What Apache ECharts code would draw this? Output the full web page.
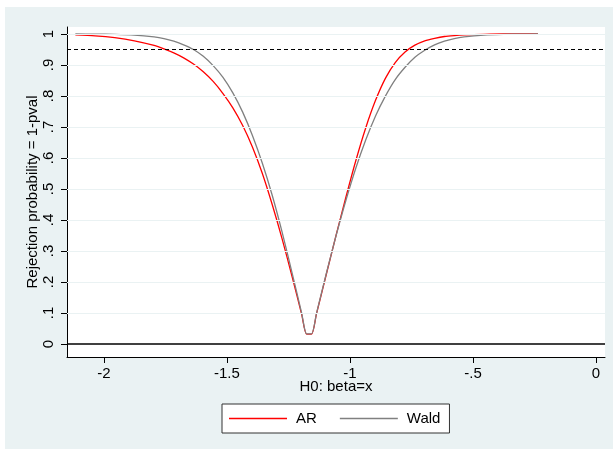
<!DOCTYPE html>
<html>
<head>
<meta charset="utf-8">
<script src="https://cdn.jsdelivr.net/npm/echarts@6/dist/echarts.min.js"></script>
<style>html,body{margin:0;padding:0;background:#fff}#c{width:613px;height:449px}</style>
</head>
<body>
<div id="c"></div>
<script>
var xValues = [-2.116,-2.036,-1.956,-1.876,-1.796,-1.756,-1.716,-1.676,-1.636,-1.596,-1.556,-1.516,-1.476,-1.436,-1.396,-1.356,-1.316,-1.276,-1.236,-1.196,-1.176,-1.156,-1.136,-1.096,-1.056,-1.016,-0.976,-0.936,-0.896,-0.856,-0.816,-0.776,-0.736,-0.696,-0.656,-0.616,-0.576,-0.536,-0.456,-0.376,-0.296,-0.236];
var arValues = [0.997,0.994,0.988,0.978,0.963,0.952,0.939,0.923,0.903,0.878,0.847,0.808,0.762,0.705,0.635,0.550,0.450,0.340,0.220,0.095,0.032,0.032,0.097,0.225,0.352,0.475,0.592,0.697,0.786,0.857,0.908,0.942,0.964,0.978,0.986,0.992,0.995,0.997,0.999,1.0,1.0,1.0];
var waldValues = [1.0,0.9997,0.9989,0.9966,0.9907,0.9853,0.9768,0.9651,0.950,0.928,0.898,0.860,0.810,0.748,0.672,0.583,0.480,0.362,0.232,0.099,0.033,0.033,0.0987,0.2274,0.3509,0.4647,0.5676,0.6579,0.7356,0.7995,0.8529,0.8926,0.9249,0.9476,0.9651,0.9768,0.9853,0.9907,0.9966,0.9989,0.9997,1.0];
var yTicks = [0,0.1,0.2,0.3,0.4,0.5,0.6,0.7,0.8,0.9,1];
var xTicks = [-2,-1.5,-1,-0.5,0];
var refLine = 0.95;

function stataFmt(v){
  var s = String(Math.round(v*100)/100);
  return s.replace(/^0\./,'.').replace(/^-0\./,'-.');
}
function zip(xs, ys){ return xs.map(function(x,i){ return [x, ys[i]]; }); }

var chart = echarts.init(document.getElementById('c'), null, {renderer:'canvas'});
var font = 'Liberation Sans, Arial, Helvetica, sans-serif';
chart.setOption({
  backgroundColor: '#ffffff',
  animation: false,
  graphic: [{
    type: 'rect', z: -100, silent: true,
    shape: {x: 5, y: 7, width: 608, height: 442},
    style: {fill: '#eaf2f3'}
  }],
  grid: {left: 67, right: 8, top: 27, bottom: 92, show: true, backgroundColor: '#ffffff', borderWidth: 0},
  xAxis: {
    type: 'value', min: -2.15, max: 0.0366,
    name: 'H0: beta=x', nameLocation: 'middle', nameGap: 22, nameMoveOverlap: false,
    nameTextStyle: {fontFamily: font, fontSize: 15, color: '#000'},
    axisLine: {show: true, onZero: false, lineStyle: {color: '#000', width: 1}},
    axisTick: {show: true, length: 6, customValues: xTicks, lineStyle: {color: '#000'}},
    axisLabel: {customValues: xTicks, formatter: stataFmt, margin: 9, fontFamily: font, fontSize: 15, color: '#000'},
    splitLine: {show: false}
  },
  yAxis: {
    type: 'value', min: -0.0419, max: 1.0226,
    name: 'Rejection probability = 1-pval', nameLocation: 'middle', nameGap: 27, nameMoveOverlap: false,
    nameTextStyle: {fontFamily: font, fontSize: 15, color: '#000'},
    axisLine: {show: true, onZero: false, lineStyle: {color: '#000', width: 1}},
    axisTick: {show: true, length: 6, customValues: yTicks, lineStyle: {color: '#000'}},
    axisLabel: {customValues: yTicks, formatter: stataFmt, rotate: 90, margin: 11, fontFamily: font, fontSize: 15, color: '#000'},
    splitLine: {show: false}
  },
  legend: {
    left: 222, top: 404,
    data: ['AR', 'Wald'],
    icon: 'rect',
    itemWidth: 58, itemHeight: 1.5, itemGap: 23,
    padding: [7, 9, 7, 7],
    backgroundColor: '#ffffff', borderColor: '#333', borderWidth: 1,
    textStyle: {fontFamily: font, fontSize: 15, color: '#000', padding: [0,0,0,4]}
  },
  series: [
    {
      name: 'grid', type: 'line', data: [], silent: true,
      markLine: {
        silent: true, symbol: 'none', label: {show: false}, animation: false,
        data: yTicks.filter(function(v){return v !== 0;}).map(function(v){ return {yAxis: v, lineStyle: {color: '#eaf2f3', width: 1, type: 'solid'}}; })
          .concat([{yAxis: 0, lineStyle: {color: '#000', width: 1.6, type: 'solid'}},
                   {yAxis: refLine, lineStyle: {color: '#000', width: 1.2, type: [4, 3]}}])
      }
    },
    {
      name: 'AR', type: 'line', data: zip(xValues, arValues),
      showSymbol: false, symbol: 'none', smooth: 0.25,
      lineStyle: {color: '#ff0000', width: 1.3}, itemStyle: {color: '#ff0000'}
    },
    {
      name: 'Wald', type: 'line', data: zip(xValues, waldValues),
      showSymbol: false, symbol: 'none', smooth: 0.25,
      lineStyle: {color: '#808080', width: 1.3}, itemStyle: {color: '#808080'}
    }
  ]
});
</script>
</body>
</html>
